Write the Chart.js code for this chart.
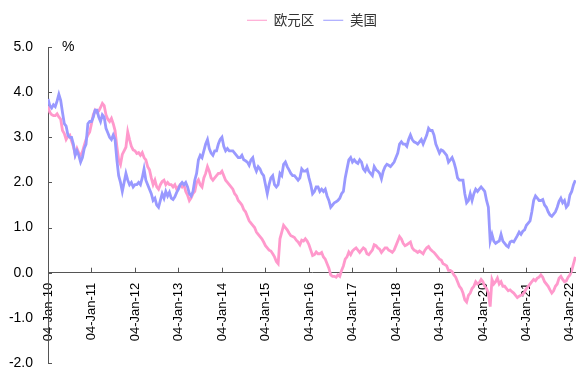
<!DOCTYPE html>
<html lang="zh">
<head>
<meta charset="UTF-8">
<title>10年期国债收益率：欧元区 vs 美国</title>
<script src="https://cdn.jsdelivr.net/npm/chart.js"></script>
<style>
  body { margin: 0; background: #fff; }
  canvas { display: block; }
</style>
</head>
<body>
<canvas id="yieldChart" width="576" height="372"></canvas>
<script>
// series names (legend order)
const seriesNames = ['欧元区', '美国'];

// x axis: one tick per year, labelled with the first trading day
const tickYears = [2010, 2011, 2012, 2013, 2014, 2015, 2016, 2017, 2018, 2019, 2020, 2021, 2022];
const tickLabels = ['04-Jan-10', '04-Jan-11', '04-Jan-12', '04-Jan-13', '04-Jan-14', '04-Jan-15',
  '04-Jan-16', '04-Jan-17', '04-Jan-18', '04-Jan-19', '04-Jan-20', '04-Jan-21', '04-Jan-22'];

// yields in %, two readings per month starting Jan 2010
const startYear = 2010;
const pointsPerYear = 24;

const euroYield = [
  3.70, 3.55, 3.50, 3.48, 3.48, 3.52, 3.45, 3.40, 3.15, 3.08, 2.95, 3.02, 3.05, 2.92, 2.80, 2.62, 2.75, 2.65, 2.60, 2.68, 2.82, 2.95, 3.05, 3.12,
  3.30, 3.50, 3.60, 3.55, 3.58, 3.66, 3.75, 3.70, 3.50, 3.40, 3.35, 3.42, 3.30, 3.15, 2.80, 2.50, 2.40, 2.62, 2.70, 2.78, 3.12, 2.95, 2.80, 2.72,
  2.70, 2.64, 2.66, 2.60, 2.66, 2.55, 2.50, 2.35, 2.28, 2.10, 1.95, 2.05, 1.90, 1.85, 1.95, 2.02, 2.05, 1.95, 2.00, 1.95, 1.95, 1.90, 1.95, 1.85,
  1.90, 1.95, 1.90, 1.95, 1.80, 1.72, 1.60, 1.66, 1.75, 1.80, 2.00, 2.06, 1.95, 1.90, 2.10, 2.20, 2.35, 2.25, 2.10, 2.05, 2.10, 2.15, 2.20, 2.20,
  2.25, 2.15, 2.05, 2.00, 1.95, 1.90, 1.85, 1.75, 1.70, 1.60, 1.55, 1.50, 1.40, 1.35, 1.25, 1.15, 1.10, 1.05, 1.00, 0.90, 0.85, 0.80, 0.75, 0.68,
  0.60, 0.55, 0.50, 0.48, 0.42, 0.35, 0.25, 0.20, 0.75, 0.90, 1.05, 1.00, 0.95, 0.88, 0.82, 0.80, 0.78, 0.72, 0.68, 0.62, 0.72, 0.70, 0.75, 0.70,
  0.62, 0.50, 0.38, 0.40, 0.46, 0.42, 0.42, 0.45, 0.35, 0.30, 0.20, 0.10, -0.05, -0.08, -0.08, -0.10, -0.05, -0.08, 0.05, 0.15, 0.30, 0.35, 0.46, 0.40,
  0.48, 0.52, 0.55, 0.50, 0.45, 0.50, 0.55, 0.52, 0.42, 0.40, 0.45, 0.50, 0.62, 0.60, 0.55, 0.52, 0.45, 0.50, 0.55, 0.55, 0.50, 0.48, 0.45, 0.50,
  0.60, 0.70, 0.80, 0.75, 0.65, 0.60, 0.62, 0.65, 0.68, 0.55, 0.50, 0.48, 0.45, 0.48, 0.45, 0.42, 0.50, 0.55, 0.58, 0.52, 0.48, 0.45, 0.40, 0.35,
  0.30, 0.28, 0.20, 0.18, 0.15, 0.05, 0.05, 0.02, -0.05, -0.10, -0.20, -0.30, -0.35, -0.45, -0.60, -0.65, -0.50, -0.45, -0.35, -0.30, -0.20, -0.25, -0.22, -0.15,
  -0.20, -0.30, -0.35, -0.45, -0.75, -0.15, -0.25, -0.20, -0.12, -0.25, -0.20, -0.30, -0.30, -0.35, -0.40, -0.38, -0.42, -0.45, -0.50, -0.55, -0.52, -0.50, -0.48, -0.42,
  -0.35, -0.30, -0.25, -0.20, -0.15, -0.18, -0.12, -0.10, -0.05, -0.10, -0.20, -0.25, -0.30, -0.38, -0.45, -0.40, -0.30, -0.25, -0.12, -0.08, -0.15, -0.20, -0.18, -0.10,
  -0.05, 0.05, 0.20, 0.35
];

const usYield = [
  3.85, 3.70, 3.65, 3.72, 3.68, 3.80, 3.95, 3.82, 3.55, 3.30, 3.25, 3.05, 3.00, 3.00, 2.85, 2.60, 2.70, 2.60, 2.45, 2.55, 2.75, 2.85, 3.30, 3.35,
  3.35, 3.45, 3.60, 3.60, 3.45, 3.35, 3.50, 3.45, 3.20, 3.10, 3.00, 2.95, 3.05, 2.95, 2.50, 2.15, 2.00, 1.80, 2.00, 2.20, 2.05, 1.95, 2.00, 1.90,
  1.95, 1.95, 2.00, 1.95, 2.10, 2.30, 2.05, 1.95, 1.85, 1.75, 1.60, 1.65, 1.50, 1.45, 1.60, 1.75, 1.65, 1.80, 1.70, 1.78, 1.65, 1.62, 1.68, 1.78,
  1.85, 1.95, 2.00, 1.95, 2.00, 1.90, 1.75, 1.70, 1.80, 2.05, 2.20, 2.50, 2.60, 2.55, 2.70, 2.85, 2.95, 2.75, 2.65, 2.60, 2.70, 2.70, 2.85, 2.95,
  3.00, 2.80, 2.70, 2.75, 2.70, 2.70, 2.70, 2.65, 2.60, 2.55, 2.55, 2.60, 2.50, 2.48, 2.45, 2.38, 2.50, 2.55, 2.35, 2.25, 2.35, 2.30, 2.20, 2.15,
  1.95, 1.75, 1.95, 2.10, 2.15, 1.95, 1.90, 1.95, 2.20, 2.15, 2.40, 2.45, 2.35, 2.28, 2.20, 2.15, 2.15, 2.10, 2.05, 2.10, 2.30, 2.25, 2.25, 2.28,
  2.10, 1.95, 1.75, 1.80, 1.90, 1.90, 1.80, 1.85, 1.80, 1.85, 1.70, 1.60, 1.45, 1.50, 1.55, 1.57, 1.60, 1.65, 1.75, 1.80, 2.10, 2.30, 2.50, 2.55,
  2.45, 2.50, 2.45, 2.42, 2.50, 2.45, 2.30, 2.25, 2.35, 2.25, 2.20, 2.15, 2.35, 2.28, 2.25, 2.20, 2.08, 2.25, 2.35, 2.40, 2.38, 2.35, 2.40, 2.45,
  2.55, 2.65, 2.85, 2.90, 2.85, 2.85, 2.80, 2.95, 3.05, 2.95, 2.90, 2.88, 2.85, 2.90, 2.95, 2.85, 2.95, 3.05, 3.20, 3.15, 3.15, 3.05, 2.85, 2.75,
  2.65, 2.72, 2.70, 2.65, 2.60, 2.45, 2.50, 2.55, 2.45, 2.30, 2.10, 2.05, 2.05, 2.05, 1.75, 1.55, 1.60, 1.75, 1.60, 1.75, 1.85, 1.80, 1.85, 1.90,
  1.85, 1.80, 1.60, 1.45, 0.70, 0.85, 0.70, 0.65, 0.68, 0.70, 0.85, 0.70, 0.65, 0.60, 0.57, 0.68, 0.70, 0.68, 0.75, 0.82, 0.90, 0.85, 0.92, 0.95,
  1.05, 1.10, 1.15, 1.35, 1.60, 1.70, 1.65, 1.60, 1.60, 1.62, 1.50, 1.45, 1.35, 1.28, 1.25, 1.30, 1.35, 1.45, 1.58, 1.65, 1.55, 1.60, 1.45, 1.50,
  1.72, 1.80, 1.95, 2.05
];

function toPoints(values) {
  return values.map((v, i) => ({ x: startYear + i / pointsPerYear, y: v }));
}

Chart.defaults.font.family = '"Liberation Sans", Arial, sans-serif';
Chart.defaults.color = '#000';

const axisColor = '#555';

// leave a gap between the legend row and the plot
const legendGap = {
  id: 'legendGap',
  afterInit(chart) {
    const legend = chart.legend;
    const fit = legend.fit;
    legend.fit = function () {
      fit.call(this);
      this.height += 10;
    };
  }
};

// tick marks point into the plot, plus the unit label above the y axis
const innerTicks = {
  id: 'innerTicks',
  afterDraw(chart) {
    const { ctx, chartArea, scales: { x, y } } = chart;
    const y0 = y.getPixelForValue(0);
    ctx.save();
    ctx.strokeStyle = axisColor;
    ctx.lineWidth = 1;
    ctx.beginPath();
    y.ticks.forEach(t => {
      const py = Math.round(y.getPixelForValue(t.value)) + 0.5;
      ctx.moveTo(chartArea.left, py);
      ctx.lineTo(chartArea.left + 4, py);
    });
    x.ticks.forEach(t => {
      const px = Math.round(x.getPixelForValue(t.value)) + 0.5;
      ctx.moveTo(px, y0);
      ctx.lineTo(px, y0 - 5);
    });
    ctx.stroke();
    ctx.fillStyle = '#000';
    ctx.font = '14px "Liberation Sans", Arial, sans-serif';
    ctx.textBaseline = 'middle';
    ctx.fillText('%', chartArea.left + 14, chartArea.top);
    ctx.restore();
  }
};

new Chart(document.getElementById('yieldChart'), {
  type: 'line',
  data: {
    datasets: [
      {
        label: seriesNames[0],
        data: toPoints(euroYield),
        borderColor: '#FF99CC',
        backgroundColor: '#FF99CC',
        order: 1
      },
      {
        label: seriesNames[1],
        data: toPoints(usYield),
        borderColor: '#9999FF',
        backgroundColor: '#9999FF',
        order: 0
      }
    ]
  },
  options: {
    responsive: false,
    animation: false,
    devicePixelRatio: 1,
    parsing: false,
    elements: {
      line: { borderWidth: 2.8, tension: 0 },
      point: { radius: 0, hoverRadius: 0 }
    },
    layout: { padding: { top: 4, right: 0, bottom: 0, left: 0 } },
    plugins: {
      legend: {
        position: 'top',
        fullSize: false,
        labels: {
          sort: (a, b) => a.datasetIndex - b.datasetIndex,
          usePointStyle: true,
          pointStyle: 'line',
          pointStyleWidth: 20,
          boxHeight: 13,
          padding: 9,
          color: '#333',
          font: { family: '"Noto Sans CJK SC", sans-serif', size: 13.5 }
        }
      },
      tooltip: { enabled: false }
    },
    scales: {
      x: {
        type: 'linear',
        min: 2010,
        max: 2022.14,
        position: { y: 0 },
        afterBuildTicks: s => { s.ticks = tickYears.map(v => ({ value: v })); },
        afterFit: s => { s.paddingLeft = 0; s.paddingRight = 0; s.height = 0; },
        grid: { drawOnChartArea: false, drawTicks: false },
        border: { color: axisColor, width: 1 },
        ticks: {
          autoSkip: false,
          minRotation: 90,
          maxRotation: 90,
          padding: 10,
          font: { size: 13 },
          callback: v => tickLabels[tickYears.indexOf(v)]
        }
      },
      y: {
        min: -2,
        max: 5,
        afterFit: s => { s.width = 48; s.paddingTop = 47; s.paddingBottom = 9; },
        grid: { drawOnChartArea: false, drawTicks: false },
        border: { color: axisColor, width: 1 },
        ticks: {
          stepSize: 1,
          padding: 15,
          font: { size: 14 },
          callback: v => v.toFixed(1)
        }
      }
    }
  },
  plugins: [legendGap, innerTicks]
});
</script>
</body>
</html>
